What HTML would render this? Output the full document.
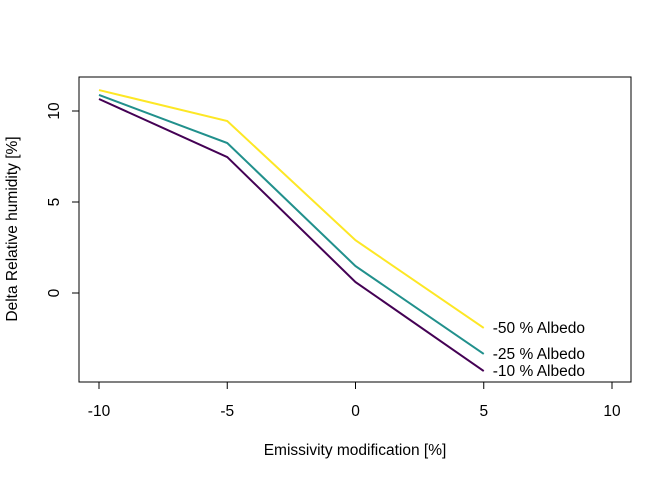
<!DOCTYPE html>
<html><head><meta charset="utf-8"><style>
body{margin:0;background:#fff;}
svg text{font-family:"Liberation Sans",sans-serif;font-size:15.5px;fill:#000;}
</style></head><body>
<svg width="672" height="480">
<rect x="79" y="77" width="552" height="305" fill="none" stroke="#000"/>
<g id="xaxis"></g>
<g id="yaxis"></g>
<g id="series"></g>
<text x="355" y="455" text-anchor="middle">Emissivity modification [%]</text>
<text transform="translate(17,229) rotate(-90)" text-anchor="middle">Delta Relative humidity [%]</text>
</svg>
<script>
const xValues=[-10,-5,0,5];
const seriesNames=["-50 % Albedo","-25 % Albedo","-10 % Albedo"];
const seriesYellow=[11.15,9.45,2.9,-1.92];
const seriesTeal=[10.88,8.24,1.48,-3.35];
const seriesPurple=[10.66,7.47,0.6,-4.29];
const xTicks=[-10,-5,0,5,10];
const yTicks=[0,5,10];
const ns="http://www.w3.org/2000/svg";
const sx=v=>99+(v+10)*25.65;
const sy=v=>293-v*18.2;
function mk(t,a,p){const e=document.createElementNS(ns,t);for(const k in a)e.setAttribute(k,a[k]);p.appendChild(e);return e;}
const xa=document.getElementById('xaxis'),ya=document.getElementById('yaxis'),sg=document.getElementById('series');
mk('line',{x1:sx(-10),x2:sx(10),y1:382,y2:382,stroke:'#000'},xa);
xTicks.forEach(t=>{
  const l=mk('line',{x1:sx(t),x2:sx(t),y1:382,y2:389,stroke:'#000'},xa);
  
  
  const tx=mk('text',{x:sx(t),y:416,'text-anchor':'middle'},xa);tx.textContent=t;
  
  
});
mk('line',{x1:79,x2:79,y1:sy(0),y2:sy(10),stroke:'#000'},ya);
yTicks.forEach(t=>{
  const l=mk('line',{x1:72,x2:79,y1:sy(t),y2:sy(t),stroke:'#000'},ya);
  
  
  const tx=mk('text',{transform:`translate(59,${sy(t)}) rotate(-90)`,'text-anchor':'middle'},ya);tx.textContent=t;
  
  
});
const all=[[seriesYellow,'#fde725'],[seriesTeal,'#21908c'],[seriesPurple,'#440154']];
all.forEach(([d,c],i)=>{
  const p=mk('polyline',{points:d.map((v,j)=>sx(xValues[j])+','+sy(v)).join(' '),fill:'none',stroke:c,'stroke-width':2},sg);
  
  
  const t=mk('text',{x:sx(5)+9,y:sy(d[3])+5},sg);t.textContent=seriesNames[i];
  
  
});
</script>
</body></html>
